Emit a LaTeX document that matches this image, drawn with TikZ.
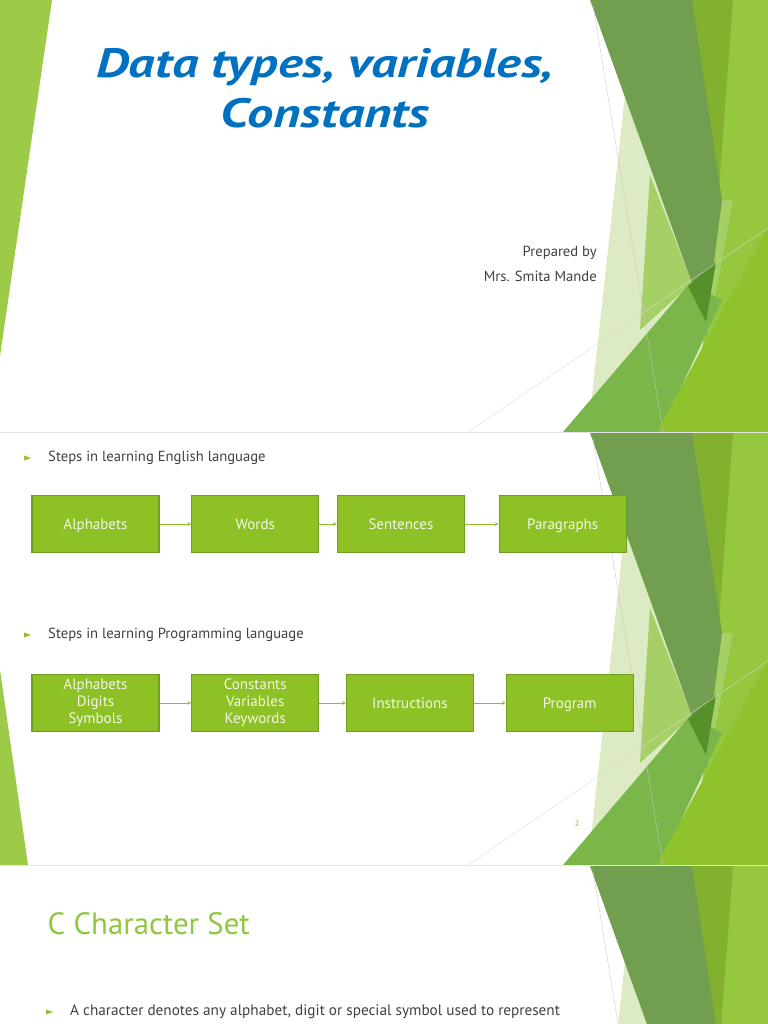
\documentclass[tikz,border=0pt]{standalone}
\usepackage{fontspec}
\setmainfont{PT Sans}
\newfontfamily\titlefont[FakeStretch=1.28]{PT Sans}
\usepackage{tikz}
\usetikzlibrary{arrows,positioning,calc}
\definecolor{facetdark}{HTML}{729F4F}
\definecolor{facetmid}{HTML}{83B02F}
\definecolor{facetlight}{HTML}{96C83F}
\definecolor{facetpale}{HTML}{DCEBC4}
\definecolor{facetsoft}{HTML}{A6CF66}
\definecolor{facetleaf}{HTML}{7BB64A}
\definecolor{facetlime}{HTML}{8FC32E}
\definecolor{facetdeep}{HTML}{55902B}
\definecolor{sidebar}{HTML}{9DCB48}
\definecolor{boxfill}{HTML}{8DC126}
\definecolor{boxline}{HTML}{6E9E22}
\definecolor{boxtext}{HTML}{F3F8E6}
\definecolor{titleblue}{HTML}{0070C0}
\definecolor{bodygray}{HTML}{404040}
\definecolor{headgreen}{HTML}{90C740}
\definecolor{slideedge}{HTML}{E4E4E4}

% right-hand facets of one slide, #1 = top edge of the slide
\newcommand{\facetdeco}[1]{%
\begin{scope}[shift={(0,#1)}]
\clip (0,0) rectangle (768,432);
\fill[facetlight] (733,0) -- (768,0) -- (768,432) -- (650,432) -- cycle;
\fill[facetmid] (690,0) -- (733,0) -- (708,335) -- (700,330) -- cycle;
\fill[facetpale] (625,95) -- (706,322) -- (690,432) -- (588,432) -- cycle;
\fill[facetsoft] (650,175) -- (692,283) -- (640,330) -- cycle;
\fill[facetsoft] (722,200) -- (733,200) -- (708,335) -- (706,322) -- cycle;
\fill[facetdark] (590,0) -- (692,0) -- (722,200) -- (706,322) -- cycle;
\fill[facetleaf] (563,432) -- (690,283) -- (722,300) -- (660,432) -- cycle;
\fill[facetdeep] (688,286) -- (716,262) -- (706,322) -- cycle;
\fill[facetlime] (657,432) -- (768,226) -- (768,432) -- cycle;
\draw[black!22, line width=0.3pt] (593,5) -- (663,432);
\draw[black!15, line width=0.3pt] (468,432) -- (768,228);
\end{scope}}

\begin{document}
\begin{tikzpicture}[x=0.03cm, y=-0.03cm,
    stepbox/.style={rectangle, draw=boxline, line width=0.9pt, fill=boxfill, minimum width=3.81cm, minimum height=1.71cm, align=center, text=boxtext, font=\fontsize{12.8}{14.5}\selectfont},
    oneline/.style={stepbox, text height=9.5pt, text depth=0pt},
    listbox/.style={stepbox, execute at begin node={\rule{0pt}{15pt}}},
    arrow/.style={->, >=stealth, line width=0.5pt, draw=boxfill},
    bullettext/.style={anchor=west, text=bodygray, font=\fontsize{12.5}{14}\selectfont, inner sep=0pt},
]
\useasboundingbox (0,0) rectangle (768,1024);

% === BACKGROUND FACETS ===
\begin{scope}
\clip (0,0) rectangle (768,1024);
\facetdeco{0}
\facetdeco{433}
\facetdeco{866}
\fill[sidebar] (0,0) -- (52,0) -- (0,356) -- cycle;
\fill[sidebar] (0,670) -- (28,865) -- (0,865) -- cycle;
\draw[slideedge, line width=0.6pt] (0,432.5) -- (768,432.5);
\draw[slideedge, line width=0.6pt] (0,865.5) -- (768,865.5);
\end{scope}

% === TITLE SLIDE ===
\node[text=titleblue, font=\fontsize{35}{42.5}\selectfont\titlefont\bfseries\itshape, align=center] (title) at (325,88) {Data types, variables,\\Constants};
\node[anchor=east, text=bodygray, font=\fontsize{12.5}{21}\selectfont, align=right, inner sep=0pt] (author) at (597,264) {Prepared by\\Mrs. Smita Mande};

% === ENGLISH STEPS ===
\node[bullettext] (english) at (48,458) {Steps in learning English language};
\node[oneline] (alpha) at (95.5,524) {Alphabets};
\node[oneline, right=0.95cm of alpha] (words) {Words};
\node[oneline, right=0.53cm of words] (sent) {Sentences};
\node[oneline, right=1.01cm of sent] (para) {Paragraphs};

% === PROGRAMMING STEPS ===
\node[bullettext] (prog) at (48,635) {Steps in learning Programming language};
\node[listbox] (chars) at (95.5,703) {Alphabets\\Digits\\Symbols};
\node[listbox, right=0.95cm of chars] (tokens) {Constants\\Variables\\Keywords};
\node[oneline, right=0.8cm of tokens] (instr) {Instructions};
\node[oneline, right=0.95cm of instr] (program) {Program};
\node[text=facetlime, font=\fontsize{7}{8}\selectfont] (pagenum) at (577,824) {2};

% === CHARACTER SET ===
\node[anchor=base west, text=headgreen, font=\fontsize{26.3}{30}\selectfont, inner sep=0pt] (charset) at (47.5,934) {C Character Set};
\node[bullettext, font=\fontsize{13}{15}\selectfont] (chardef) at (70,1012) {A character denotes any alphabet, digit or special symbol used to represent};

% === BULLETS ===
\foreach \item in {english, prog, chardef}
  \fill[facetlime] ($(\item.west)+(-24,-2.5)$) -- ++(7,2.5) -- ++(-7,2.5) -- cycle;

% === ARROWS ===
\draw[arrow] (alpha) -- (words);
\draw[arrow] (words) -- (sent);
\draw[arrow] (sent) -- (para);
\draw[arrow] (chars) -- (tokens);
\draw[arrow] (tokens) -- (instr);
\draw[arrow] (instr) -- (program);

\end{tikzpicture}
\end{document}
